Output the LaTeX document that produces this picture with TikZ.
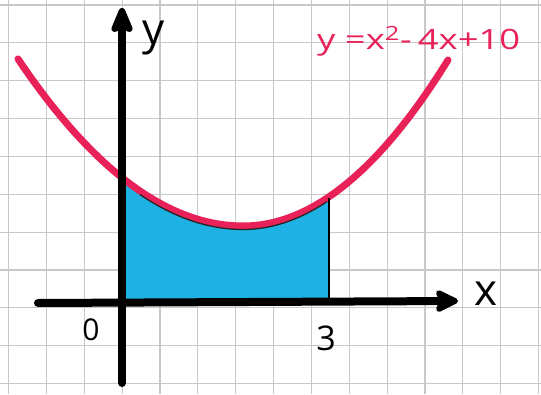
\documentclass[tikz,border=0pt]{standalone}
\usepackage{fontspec}
\setmainfont{Open Sans}
\usetikzlibrary{arrows.meta}
\definecolor{curvered}{RGB}{232,34,88}
\definecolor{areablue}{RGB}{30,178,228}
\definecolor{gridgray}{RGB}{200,200,200}
\tikzset{
  gridline/.style={draw=gridgray,line width=1.1pt},
  axisline/.style={draw=black,line width=8pt,line cap=round},
  curveline/.style={draw=curvered,line width=7pt,line cap=round},
  handlabel/.style={inner sep=0pt,text=black},
}
\begin{document}
\begin{tikzpicture}[x=1pt,y=-1pt]
\useasboundingbox (0,0) rectangle (541,394);
\fill[white] (0,0) rectangle (541,394);
% grid paper
\foreach \k in {0,...,14} {\draw[gridline] ({8.6+37.85*\k},0) -- ({8.6+37.85*\k},394);}
\foreach \k in {0,...,10} {\draw[gridline] (0,{5+37.85*\k}) -- (541,{5+37.85*\k});}
% shaded area
\fill[areablue] (125,301)
  -- plot[domain=125:243,samples=40] (\x,{228-33*((\x-243)/100)^2})
  -- plot[domain=243:329,samples=30] (\x,{228-39.5*((\x-243)/100)^2})
  -- (329,301) -- cycle;
% parabola
\draw[curveline] plot[domain=18:243,samples=60] (\x,{226-33*((\x-243)/100)^2})
  -- plot[domain=243:448,samples=60] (\x,{226-39.5*((\x-243)/100)^2});
% pencil outline of area
\draw[black!85,line width=1.3pt] plot[domain=140:243,samples=30] (\x,{229.5-33*((\x-243)/100)^2})
  -- plot[domain=243:327,samples=20] (\x,{229.5-39.5*((\x-243)/100)^2});
\coordinate (rt) at (329,198);
\coordinate (rb) at (329,300);
\draw[black,line width=2.2pt] (rt) -- (rb);
% axes
\coordinate (ybot) at (122,383);
\coordinate (ytop) at (122,8);
\coordinate (xleft) at (38,303);
\coordinate (xright) at (458,301);
\draw[axisline,-{Stealth[length=32pt,width=26pt,inset=6pt,round]}] (ybot) -- (ytop);
\draw[axisline,-{Stealth[length=28pt,width=27pt,inset=6pt,round]}] (xleft) -- (xright);
% labels
\node[handlabel,font=\fontsize{44}{44}\selectfont] (ylab) at (154,38) {y};
\node[handlabel,font=\fontsize{44}{44}\selectfont] (xlab) at (486,294) {x};
\node[handlabel,font=\fontsize{30}{30}\selectfont] (zero) at (91,330) {0};
\node[handlabel,font=\fontsize{34}{34}\selectfont] (three) at (326,338) {3};
\node[inner sep=0pt,text=curvered,font=\fontsize{28}{28}\selectfont,anchor=west] (eq) at (317,41)
  {\scalebox{1.3}[1]{y =x\textsuperscript{2}-\,4x+10}};
\end{tikzpicture}
\end{document}
